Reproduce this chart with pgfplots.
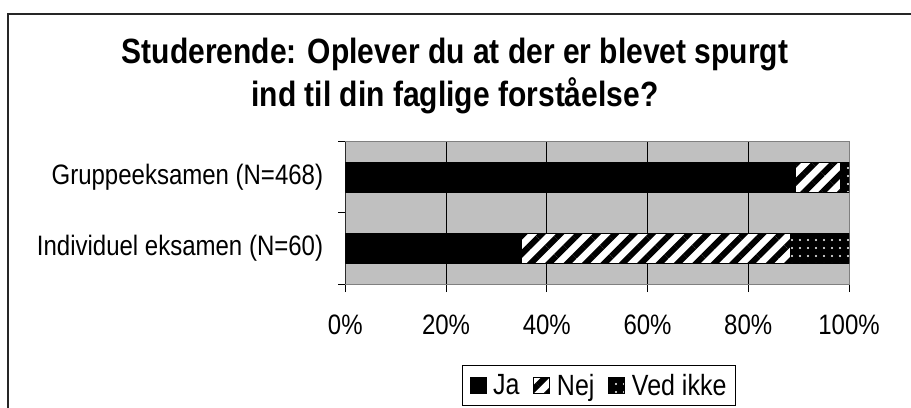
\documentclass[border=0pt]{standalone}
\usepackage{fontspec}
\setmainfont{Liberation Sans}
\usepackage{pgfplots}
\pgfplotsset{compat=1.18}
\usetikzlibrary{patterns.meta}
\definecolor{plotbg}{RGB}{192,192,192}
\definecolor{framegray}{RGB}{128,128,128}
\newcommand{\vs}[1]{\scalebox{1}[1.17]{#1}}
\newcommand{\legtxt}[1]{{\fontsize{25bp}{30bp}\selectfont\hspace{5bp}\vs{#1}}}
\begin{document}
\begin{tikzpicture}
\path[use as bounding box] (0bp,0bp) rectangle (911bp,408bp);
\draw[line width=1.6bp, black!85] (8bp,-2bp) -- (8bp,394bp) -- (913bp,394bp);
\node[anchor=base, inner sep=0pt, font=\fontsize{30bp}{36bp}\selectfont\bfseries] at (455bp,344bp) {\vs{Studerende: Oplever du at der er blevet spurgt}};
\node[anchor=base, inner sep=0pt, font=\fontsize{30bp}{36bp}\selectfont\bfseries] at (455bp,301bp) {\vs{ind til din faglige forståelse?}};
\begin{axis}[
  at={(345.3bp,124bp)}, anchor=south west,
  scale only axis, width=503.7bp, height=142.4bp,
  xbar stacked, bar width=30bp,
  xmin=0, xmax=100, ymin=-0.5, ymax=1.5,
  axis background/.style={fill=plotbg},
  axis line style={framegray, line width=1bp},
  xtick={0,20,40,60,80,100},
  xticklabels={\vs{0\%},\vs{20\%},\vs{40\%},\vs{60\%},\vs{80\%},\vs{100\%}},
  ytick={0,1},
  yticklabels={\vs{Individuel eksamen (N=60)},\vs{Gruppeeksamen (N=468)}},
  minor ytick={-0.5,0.5,1.5},
  xtick pos=bottom, ytick pos=left,
  tick align=outside,
  major tick length=8bp, minor tick length=7bp,
  tick style={black, line width=0.75bp},
  major y tick style={draw=none},
  xmajorgrids=true,
  major grid style={black, line width=0.75bp},
  tick label style={font=\fontsize{24bp}{28bp}\selectfont},
  xticklabel style={anchor=north, inner sep=0pt, yshift=-23bp},
  yticklabel style={anchor=east, inner sep=0pt, xshift=-14bp},
  legend style={at={(0.5037,-0.5655)}, anchor=north, legend columns=3,
    draw=black, line width=0.75bp,
    inner xsep=7bp, inner ysep=7bp,
    /tikz/every even column/.append style={column sep=12bp}},
  legend image code/.code={\draw[#1, line width=0.5bp] (0bp,-8bp) rectangle (16bp,8bp);},
]
\addplot[fill=black, draw=black] coordinates {(35.0,0) (89.3,1)};
\addplot[fill=white, draw=black, postaction={pattern={Lines[angle=45,distance=13bp,line width=6bp]}}] coordinates {(53.3,0) (9.0,1)};
\addplot[fill=black, draw=black, postaction={pattern={Dots[distance=8bp,radius=1.2bp]},pattern color=white}] coordinates {(11.7,0) (1.7,1)};
\draw[black, line width=1bp] (rel axis cs:0,0) -- (rel axis cs:0,1);
\legend{\legtxt{Ja},\legtxt{Nej},\legtxt{Ved ikke}}
\end{axis}
\end{tikzpicture}
\end{document}
